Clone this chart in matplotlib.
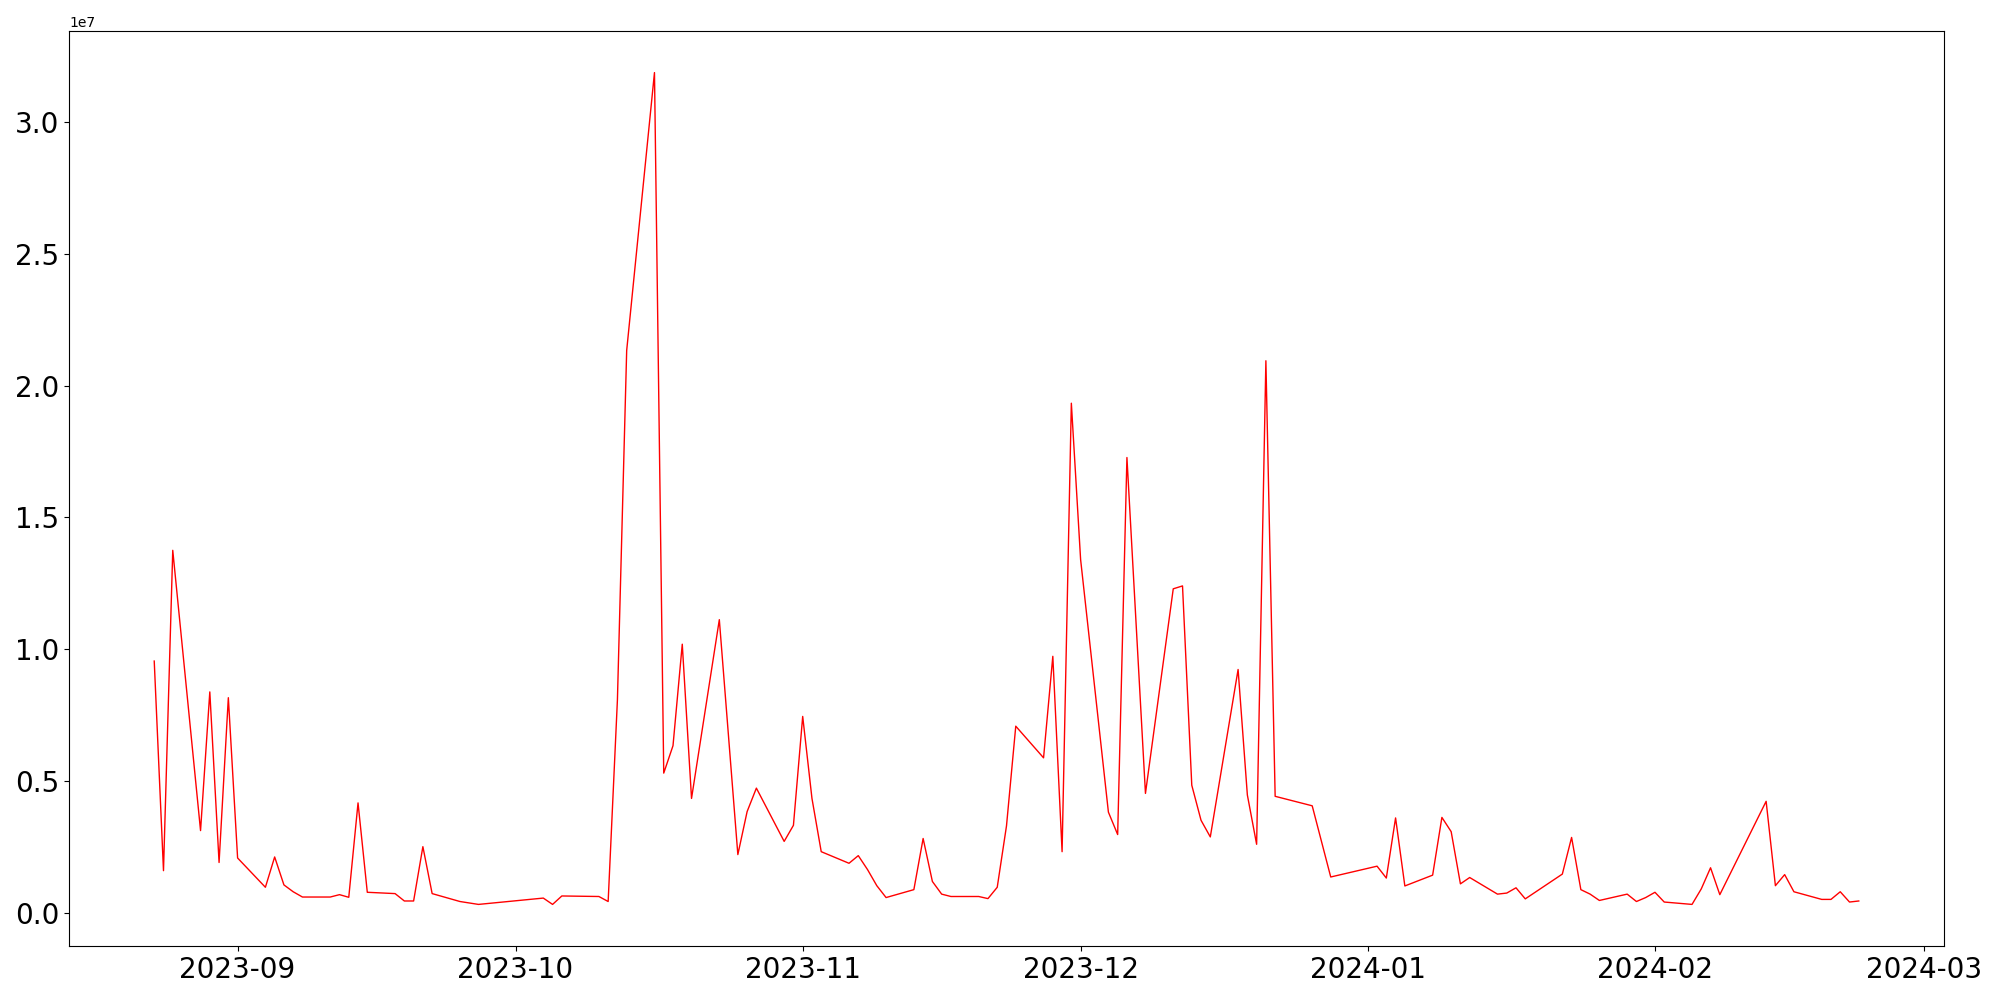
# Daily volume line chart - Aug 2023 to Feb 2024

import matplotlib
matplotlib.use('Agg')
import matplotlib.pyplot as plt                                     # import matplotlib as plt
import numpy as np                                                  # import numpy as np
import pandas as pd                                                 # import pandas for dates

# dates (only the corners of the line)
dates = ['2023-08-23', '2023-08-24', '2023-08-25', '2023-08-28', '2023-08-29', '2023-08-30',
         '2023-08-31', '2023-09-01', '2023-09-04', '2023-09-05', '2023-09-06', '2023-09-07',
         '2023-09-08', '2023-09-11', '2023-09-12', '2023-09-13', '2023-09-14', '2023-09-15',
         '2023-09-18', '2023-09-19', '2023-09-20', '2023-09-21', '2023-09-22', '2023-09-25',
         '2023-09-27', '2023-10-04', '2023-10-05', '2023-10-06', '2023-10-10', '2023-10-11',
         '2023-10-12', '2023-10-13', '2023-10-16', '2023-10-17', '2023-10-18', '2023-10-19',
         '2023-10-20', '2023-10-23', '2023-10-25', '2023-10-26', '2023-10-27', '2023-10-30',
         '2023-10-31', '2023-11-01', '2023-11-02', '2023-11-03', '2023-11-06', '2023-11-07',
         '2023-11-08', '2023-11-09', '2023-11-10', '2023-11-13', '2023-11-14', '2023-11-15',
         '2023-11-16', '2023-11-17', '2023-11-20', '2023-11-21', '2023-11-22', '2023-11-23',
         '2023-11-24', '2023-11-27', '2023-11-28', '2023-11-29', '2023-11-30', '2023-12-01',
         '2023-12-04', '2023-12-05', '2023-12-06', '2023-12-08', '2023-12-11', '2023-12-12',
         '2023-12-13', '2023-12-14', '2023-12-15', '2023-12-18', '2023-12-19', '2023-12-20',
         '2023-12-21', '2023-12-22', '2023-12-26', '2023-12-28', '2024-01-02', '2024-01-03',
         '2024-01-04', '2024-01-05', '2024-01-08', '2024-01-09', '2024-01-10', '2024-01-11',
         '2024-01-12', '2024-01-15', '2024-01-16', '2024-01-17', '2024-01-18', '2024-01-22',
         '2024-01-23', '2024-01-24', '2024-01-25', '2024-01-26', '2024-01-29', '2024-01-30',
         '2024-01-31', '2024-02-01', '2024-02-02', '2024-02-05', '2024-02-06', '2024-02-07',
         '2024-02-08', '2024-02-13', '2024-02-14', '2024-02-15', '2024-02-16', '2024-02-19',
         '2024-02-20', '2024-02-21', '2024-02-22', '2024-02-23']

# values in millions
values = [9.55, 1.60, 13.75, 3.12, 8.38, 1.91,
          8.16, 2.08, 0.97, 2.12, 1.06, 0.80,
          0.60, 0.60, 0.69, 0.59, 4.17, 0.78,
          0.73, 0.45, 0.45, 2.51, 0.73, 0.43,
          0.32, 0.56, 0.32, 0.64, 0.62, 0.43,
          8.08, 21.33, 31.87, 5.30, 6.34, 10.19,
          4.34, 11.12, 2.21, 3.84, 4.73, 2.71,
          3.32, 7.45, 4.34, 2.32, 1.88, 2.17,
          1.64, 1.03, 0.58, 0.88, 2.82, 1.19,
          0.71, 0.62, 0.62, 0.54, 0.97, 3.30,
          7.08, 5.88, 9.73, 2.32, 19.33, 13.40,
          3.82, 2.97, 17.27, 4.53, 12.29, 12.40,
          4.84, 3.51, 2.88, 9.23, 4.47, 2.60,
          20.94, 4.42, 4.06, 1.36, 1.77, 1.32,
          3.60, 1.02, 1.43, 3.62, 3.08, 1.10,
          1.34, 0.71, 0.75, 0.95, 0.53, 1.47,
          2.86, 0.88, 0.71, 0.47, 0.71, 0.43,
          0.58, 0.78, 0.41, 0.32, 0.91, 1.71,
          0.69, 4.23, 1.03, 1.45, 0.80, 0.51,
          0.51, 0.80, 0.41, 0.45]

x = pd.to_datetime(dates)                                           # string dates to datetimes
y = np.array(values) * 1e6                                          # millions to real units

fig = plt.figure(figsize=(20, 10), dpi=100)                         # 2000 x 1000 picture
plt.plot(x, y, color='red', linewidth=1)                            # the red line

plt.xticks(fontsize=20)                                             # big tick labels
plt.yticks(fontsize=20)

plt.subplots_adjust(left=0.0345, right=0.972, bottom=0.054, top=0.969)

plt.savefig("out.png")                                              # save the plot
